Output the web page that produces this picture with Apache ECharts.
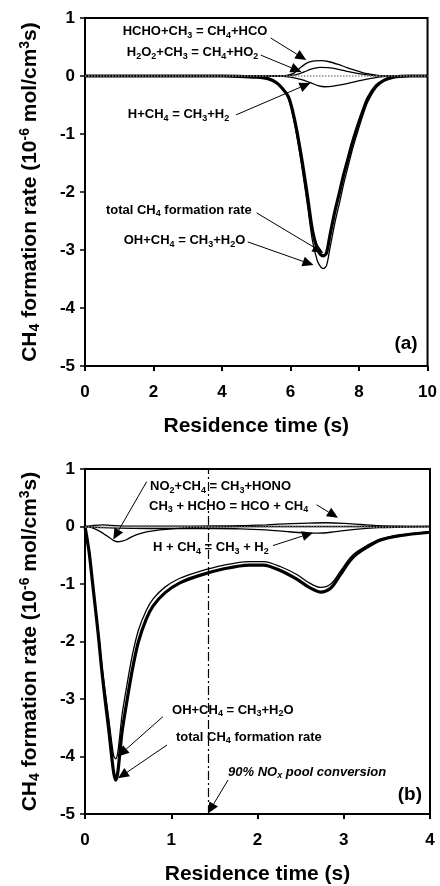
<!DOCTYPE html>
<html>
<head>
<meta charset="utf-8">
<script src="https://cdn.jsdelivr.net/npm/echarts@6/dist/echarts.min.js"></script>
<style>
  html, body { margin: 0; padding: 0; background: #fff; }
  #chart { width: 440px; height: 886px; }
</style>
</head>
<body>
<div id="chart"></div>
<script>
// ---------- Panel (a): residence time 0-10 s ----------
const aTime = [0, 4, 4.5, 5.0, 5.36, 5.6, 5.8, 5.94, 6.06, 6.18, 6.35, 6.5, 6.64, 6.78, 6.88, 6.96, 7.05, 7.15, 7.3, 7.44, 7.56, 7.68, 7.8, 7.92, 8.1, 8.26, 8.5, 8.74, 9.0, 9.2, 9.5, 10];
const aTotal = [0, 0, -0.005, -0.02, -0.05, -0.12, -0.24, -0.36, -0.6, -0.93, -1.51, -2.09, -2.66, -2.98, -3.08, -3.10, -3.05, -2.75, -2.32, -1.98, -1.68, -1.42, -1.16, -0.93, -0.62, -0.38, -0.17, -0.07, -0.02, -0.005, 0, 0];
const aOH = [0, 0, -0.005, -0.02, -0.05, -0.12, -0.25, -0.39, -0.66, -1.02, -1.64, -2.25, -2.84, -3.18, -3.29, -3.32, -3.27, -2.97, -2.52, -2.16, -1.84, -1.56, -1.28, -1.04, -0.70, -0.44, -0.20, -0.08, -0.025, -0.005, 0, 0];
const aTimeHCHO = [0, 5.6, 5.9, 6.1, 6.3, 6.5, 6.7, 6.9, 7.1, 7.39, 7.6, 7.87, 8.1, 8.3, 8.55, 8.8, 10];
const aHCHO = [0, 0, 0.01, 0.05, 0.15, 0.23, 0.26, 0.265, 0.25, 0.20, 0.155, 0.10, 0.06, 0.035, 0.01, 0, 0];
const aTimeH2O2 = [0, 5.7, 6.0, 6.2, 6.4, 6.6, 6.86, 7.1, 7.4, 7.7, 8.0, 8.35, 8.6, 10];
const aH2O2 = [0, 0, 0.01, 0.03, 0.07, 0.12, 0.15, 0.145, 0.115, 0.075, 0.04, 0.01, 0, 0];
const aTimeH = [0, 5.6, 6.0, 6.3, 6.6, 6.8, 7.0, 7.2, 7.5, 7.8, 8.1, 8.4, 8.7, 9.0, 10];
const aH = [0, 0, -0.02, -0.06, -0.12, -0.165, -0.185, -0.18, -0.15, -0.11, -0.07, -0.035, -0.01, 0, 0];

// ---------- Panel (b): residence time 0-4 s ----------
const bTime = [0, 0.027, 0.05, 0.089, 0.135, 0.162, 0.193, 0.232, 0.278, 0.309, 0.335, 0.356, 0.378, 0.40, 0.43, 0.49, 0.55, 0.62, 0.71, 0.79, 0.93, 1.1, 1.33, 1.6, 1.9, 2.07, 2.27, 2.46, 2.6, 2.73, 2.85, 2.96, 3.07, 3.15, 3.27, 3.42, 3.65, 4.0];
const bTotal = [0, -0.24, -0.47, -1.0, -1.62, -2.0, -2.48, -3.0, -3.57, -4.0, -4.3, -4.41, -4.3, -4.0, -3.57, -3.0, -2.48, -2.0, -1.61, -1.38, -1.15, -0.98, -0.85, -0.74, -0.67, -0.67, -0.77, -0.92, -1.06, -1.14, -1.07, -0.84, -0.60, -0.48, -0.36, -0.24, -0.16, -0.10];
const bOH = [0, -0.23, -0.45, -0.96, -1.56, -1.92, -2.38, -2.85, -3.37, -3.75, -4.0, -4.04, -3.95, -3.68, -3.27, -2.72, -2.23, -1.8, -1.46, -1.26, -1.05, -0.9, -0.78, -0.675, -0.61, -0.61, -0.70, -0.84, -0.98, -1.06, -1.0, -0.78, -0.55, -0.44, -0.33, -0.22, -0.15, -0.09];
const bTimeNO2 = [0, 0.08, 0.174, 0.24, 0.29, 0.34, 0.38, 0.43, 0.48, 0.54, 0.60, 0.68, 0.75, 0.87, 1.0, 1.15, 1.4, 1.8, 4.0];
const bNO2 = [0, -0.02, -0.085, -0.15, -0.2, -0.25, -0.265, -0.255, -0.23, -0.18, -0.14, -0.105, -0.085, -0.06, -0.04, -0.025, -0.01, 0, 0];
const bTimeHCHO = [0, 0.1, 0.2, 0.3, 0.5, 1.0, 1.5, 1.8, 2.1, 2.4, 2.6, 2.8, 3.0, 3.2, 3.4, 3.6, 3.8, 4.0];
const bHCHO = [0, 0.02, 0.03, 0.02, 0.005, 0.005, 0.01, 0.015, 0.03, 0.05, 0.06, 0.065, 0.055, 0.035, 0.015, 0.005, 0, 0];
const bTimeH = [0, 0.2, 0.4, 0.7, 1.0, 1.5, 1.8, 2.1, 2.35, 2.55, 2.7, 2.85, 3.0, 3.2, 3.4, 3.7, 4.0];
const bH = [0, -0.02, -0.03, -0.035, -0.035, -0.035, -0.04, -0.06, -0.09, -0.11, -0.115, -0.1, -0.07, -0.04, -0.02, -0.01, 0];
const bConversionTime = 1.43;   // 90% NOx pool conversion

// ---------- axes ----------
const aXAxis = [0, 10, 2];       // min, max, interval
const bXAxis = [0, 4, 1];
const rateAxis = [-5, 1, 1];

// ---------- annotations (data coordinates: label anchor, arrow tail, arrow tip) ----------
const annotations = [
  { grid: 0, text: 'HCHO+CH{s|3} = CH{s|4}+HCO', at: [1.10, 0.76], from: [5.42, 0.655], to: [6.46, 0.276] },
  { grid: 0, text: 'H{s|2}O{s|2}+CH{s|3} = CH{s|4}+HO{s|2}', at: [1.22, 0.40], from: [5.13, 0.36], to: [6.32, 0.07] },
  { grid: 0, text: 'H+CH{s|4} = CH{s|3}+H{s|2}', at: [1.25, -0.67], from: [4.41, -0.67], to: [6.58, -0.12] },
  { grid: 0, text: 'total CH{s|4} formation rate', at: [0.61, -2.31], from: [5.01, -2.36], to: [6.96, -3.05] },
  { grid: 0, text: 'OH+CH{s|4} = CH{s|3}+H{s|2}O', at: [1.13, -2.84], from: [4.75, -2.86], to: [6.67, -3.26] },
  { grid: 1, text: 'NO{s|2}+CH{s|4} = CH{s|3}+HONO', at: [0.754, 0.693], from: [0.715, 0.78], to: [0.328, -0.228] },
  { grid: 1, text: 'CH{s|3} + HCHO = HCO + CH{s|4}', at: [0.742, 0.348], from: [2.686, 0.377], to: [2.933, 0.152] },
  { grid: 1, text: 'H + CH{s|4} = CH{s|3} + H{s|2}', at: [0.788, -0.367], from: [2.18, -0.332], to: [2.643, -0.107] },
  { grid: 1, text: 'OH+CH{s|4} = CH{s|3}+H{s|2}O', at: [1.009, -3.197], from: [0.904, -3.306], to: [0.383, -3.998] },
  { grid: 1, text: 'total CH{s|4} formation rate', at: [1.055, -3.669], from: [0.951, -3.80], to: [0.383, -4.38] },
  { grid: 1, text: '90% NO{si|x} pool conversion', italic: true, at: [1.658, -4.27], from: [1.658, -4.41], to: [1.426, -4.99] }
];
const panelTags = [
  { grid: 0, text: '(a)', at: [9.71, -4.62] },
  { grid: 1, text: '(b)', at: [3.907, -4.66] }
];

const FONT = '"Liberation Sans", Arial, Helvetica, sans-serif';
const pair = (xs, ys) => xs.map((x, i) => [x, ys[i]]);

function xAxisFor(gridIndex, range) {
  return {
    type: 'value', gridIndex, min: range[0], max: range[1], interval: range[2],
    name: 'Residence time (s)', nameLocation: 'middle', nameGap: 50,
    nameTextStyle: { fontFamily: FONT, fontWeight: 'bold', fontSize: 21, color: '#000' },
    axisLine: { onZero: false, lineStyle: { color: '#000', width: 2 } },
    axisTick: { show: true, inside: false, length: 5, lineStyle: { color: '#000', width: 2 } },
    axisLabel: { fontFamily: FONT, fontWeight: 'bold', fontSize: 17, color: '#000', margin: 18 },
    splitLine: { show: false }
  };
}
function yAxisFor(gridIndex) {
  const sub = { fontFamily: FONT, fontWeight: 'bold', fontSize: 14, color: '#000', padding: [10, 0, 0, 0] };
  const sup = { fontFamily: FONT, fontWeight: 'bold', fontSize: 14, color: '#000', padding: [0, 0, 11, 0] };
  return {
    type: 'value', gridIndex, min: rateAxis[0], max: rateAxis[1], interval: rateAxis[2],
    name: 'CH{s|4} formation rate (10{p|-6} mol/cm{p|3}s)', nameLocation: 'middle', nameRotate: 90, nameGap: 42,
    nameTextStyle: { fontFamily: FONT, fontWeight: 'bold', fontSize: 21, color: '#000', rich: { s: sub, p: sup } },
    axisLine: { onZero: false, lineStyle: { color: '#000', width: 2 } },
    axisTick: { show: true, inside: false, length: 5, lineStyle: { color: '#000', width: 1.5 } },
    axisLabel: { fontFamily: FONT, fontWeight: 'bold', fontSize: 17, color: '#000', margin: 10 },
    splitLine: { show: false }
  };
}
function curve(gridIndex, xs, ys, width, extra) {
  return Object.assign({
    type: 'line', xAxisIndex: gridIndex, yAxisIndex: gridIndex,
    data: pair(xs, ys), showSymbol: false, symbol: 'none',
    smooth: 0.3,
    lineStyle: { color: '#000', width }, silent: true, animation: false
  }, extra || {});
}
const zeroLine = {
  silent: true, symbol: 'none', label: { show: false },
  lineStyle: { color: '#8a8a8a', type: 'dotted', width: 1.5 },
  data: [{ yAxis: 0 }], animation: false
};

const chart = echarts.init(document.getElementById('chart'), null, { renderer: 'canvas' });
chart.setOption({
  animation: false,
  backgroundColor: '#fff',
  grid: [
    { left: 85, top: 18, width: 345, height: 348, show: true, borderColor: '#000', borderWidth: 2, backgroundColor: 'transparent' },
    { left: 85, top: 469, width: 345, height: 347, show: true, borderColor: '#000', borderWidth: 2, backgroundColor: 'transparent' }
  ],
  xAxis: [xAxisFor(0, aXAxis), xAxisFor(1, bXAxis)],
  yAxis: [yAxisFor(0), yAxisFor(1)],
  series: [
    curve(0, aTime, aTime.map(() => 0), 0, { markLine: zeroLine, lineStyle: { width: 0, opacity: 0 } }),
    curve(0, aTimeHCHO, aHCHO, 1.3),
    curve(0, aTimeH2O2, aH2O2, 1.3),
    curve(0, aTimeH, aH, 1.3),
    curve(0, aTime, aOH, 1.3),
    curve(0, aTime, aTotal, 3.2),
    curve(1, bTime, bTime.map(() => 0), 0, {
      lineStyle: { width: 0, opacity: 0 },
      markLine: Object.assign({}, zeroLine, {
        data: [
          { yAxis: 0 },
          { xAxis: bConversionTime, lineStyle: { color: '#000', type: [9, 3, 2, 3], width: 1.2 } }
        ]
      })
    }),
    curve(1, bTimeHCHO, bHCHO, 1.3),
    curve(1, bTimeH, bH, 1.3),
    curve(1, bTimeNO2, bNO2, 1.3),
    curve(1, bTime, bOH, 1.3),
    curve(1, bTime, bTotal, 3.2)
  ]
});

// annotation labels and arrows placed through the axes' own scales
function buildAnnotations() {
  const els = [];
  const subStyle = { fontFamily: FONT, fontWeight: 'bold', fontSize: 9, fill: '#000', padding: [7, 0, 0, 0] };
  annotations.forEach(a => {
    const p = chart.convertToPixel({ gridIndex: a.grid }, a.at);
    const style = {
      text: a.text, x: p[0], y: p[1], fill: '#000',
      fontFamily: FONT, fontWeight: 'bold', fontSize: 13,
      fontStyle: a.italic ? 'italic' : 'normal',
      align: 'left', verticalAlign: 'middle',
      rich: {
        s: subStyle,
        si: Object.assign({}, subStyle, { fontStyle: 'italic' })
      }
    };
    els.push({ type: 'text', silent: true, z: 100, style });
    const s = chart.convertToPixel({ gridIndex: a.grid }, a.from);
    const t = chart.convertToPixel({ gridIndex: a.grid }, a.to);
    const dx = t[0] - s[0], dy = t[1] - s[1];
    const len = Math.hypot(dx, dy);
    const ux = dx / len, uy = dy / len;
    const L = 11, W = 5;
    const bx = t[0] - ux * L, by = t[1] - uy * L;
    els.push({ type: 'line', silent: true, z: 100,
      shape: { x1: s[0], y1: s[1], x2: bx, y2: by },
      style: { stroke: '#000', lineWidth: 1 } });
    els.push({ type: 'polygon', silent: true, z: 100,
      shape: { points: [[t[0], t[1]], [bx - uy * W, by + ux * W], [bx + uy * W, by - ux * W]] },
      style: { fill: '#000' } });
  });
  panelTags.forEach(tag => {
    const p = chart.convertToPixel({ gridIndex: tag.grid }, tag.at);
    els.push({ type: 'text', silent: true, z: 100,
      style: { text: tag.text, x: p[0], y: p[1], fill: '#000', fontFamily: FONT, fontWeight: 'bold', fontSize: 19,
        align: 'right', verticalAlign: 'middle' } });
  });
  chart.setOption({ graphic: els });
}
buildAnnotations();
</script>
</body>
</html>
